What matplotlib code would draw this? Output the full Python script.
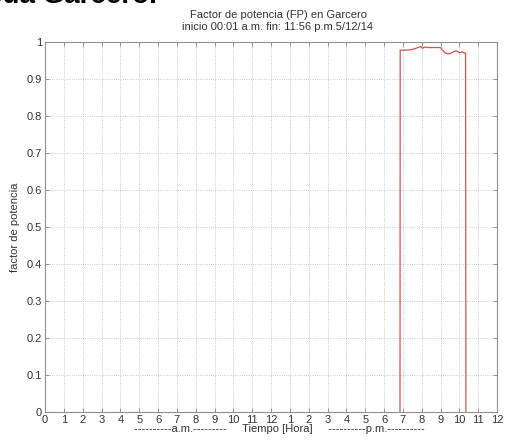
import numpy as np
import matplotlib
matplotlib.use("Agg")
from matplotlib import pyplot as plt

plt.rcParams['font.family'] = ['Liberation Sans', 'DejaVu Sans']

# hora del día (0-24) y factor de potencia leído
horas = [18.85, 18.86, 19.2, 19.45, 19.7, 19.95, 20.05, 20.15, 20.4, 20.7, 21.0,
         21.15, 21.3, 21.5, 21.7, 21.85, 22.0, 22.15, 22.3, 22.33, 22.35]
fp = [0.0, 0.978, 0.978, 0.979, 0.983, 0.988, 0.983, 0.986, 0.985, 0.985, 0.985,
      0.975, 0.969, 0.968, 0.974, 0.976, 0.971, 0.973, 0.970, 0.970, 0.0]

xticks = list(range(25))
xlabels = [str(h) for h in range(13)] + [str(h) for h in range(1, 13)]
yticks = [round(0.1 * i, 1) for i in range(11)]
ylabels = ['0'] + ['%.1f' % v for v in yticks[1:-1]] + ['1']

fig = plt.figure(figsize=(5.05, 4.40), dpi=100)
ax = fig.add_axes([45 / 505, 28 / 440, 452 / 505, 370 / 440])

ax.plot(horas, fp, color='#d65050', lw=0.9)

ax.set_xlim(0, 24)
ax.set_ylim(0, 1)
ax.set_xticks(xticks)
ax.set_xticklabels(xlabels)
ax.set_yticks(yticks)
ax.set_yticklabels(ylabels)
ax.grid(True, ls=':', color='#b8b8b8', lw=0.6)
ax.tick_params(direction='in', length=3, width=0.6, colors='#808080',
               labelcolor='#333333', labelsize=8, top=True, right=True, pad=2)
for s in ax.spines.values():
    s.set_color('#909090')
    s.set_linewidth(0.8)

ax.set_ylabel('factor de potencia', fontsize=8, color='#333333', labelpad=5)

fig.text(278 / 505, 1 - 15 / 440, 'Factor de potencia (FP) en Garcero',
         ha='center', va='center', fontsize=8, color='#333333')
fig.text(278 / 505, 1 - 27 / 440, 'inicio 00:01 a.m. fin: 11:56 p.m.5/12/14',
         ha='center', va='center', fontsize=8, color='#333333')
fig.text(279 / 505, 1 - 429 / 440,
         '----------a.m.---------     Tiempo [Hora]     ----------p.m.----------',
         ha='center', va='center', fontsize=8, color='#333333')

# texto del documento, cortado en el borde superior
fig.text(157 / 505, 1 - 3 / 440, 'cua Garcero.', ha='right', va='baseline',
         fontsize=20, fontweight='bold', color='black')

fig.savefig('out.png', dpi=100)
